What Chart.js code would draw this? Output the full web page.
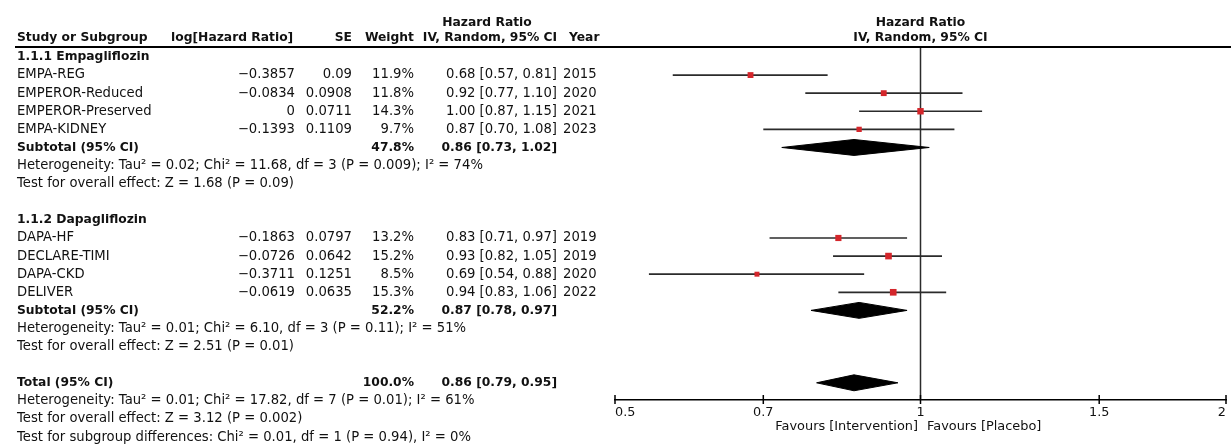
<!DOCTYPE html>
<html>
<head>
<meta charset="utf-8">
<script src="https://cdn.jsdelivr.net/npm/chart.js@4.4.1/dist/chart.umd.min.js"></script>
<style>
  html, body { margin: 0; padding: 0; background: #fff; }
  #wrap { width: 1231px; height: 446px; }
</style>
</head>
<body>
<div id="wrap"><canvas id="forest" width="1231" height="446"></canvas></div>
<script>
// studies, in table order
const studies = ['EMPA-REG', 'EMPEROR-Reduced', 'EMPEROR-Preserved', 'EMPA-KIDNEY', 'DAPA-HF', 'DECLARE-TIMI', 'DAPA-CKD', 'DELIVER'];
const logHR = [-0.3857, -0.0834, 0, -0.1393, -0.1863, -0.0726, -0.3711, -0.0619];
const se = [0.09, 0.0908, 0.0711, 0.1109, 0.0797, 0.0642, 0.1251, 0.0635];
const weights = [11.9, 11.8, 14.3, 9.7, 13.2, 15.2, 8.5, 15.3];
const hr = [0.68, 0.92, 1.00, 0.87, 0.83, 0.93, 0.69, 0.94];
const ciLow = [0.57, 0.77, 0.87, 0.70, 0.71, 0.82, 0.54, 0.83];
const ciHigh = [0.81, 1.10, 1.15, 1.08, 0.97, 1.05, 0.88, 1.06];
const years = [2015, 2020, 2021, 2023, 2019, 2019, 2020, 2022];
const studyRows = [1, 2, 3, 4, 10, 11, 12, 13];

// pooled estimates (diamonds)
const poolLabels = ['Subtotal (95% CI)', 'Subtotal (95% CI)', 'Total (95% CI)'];
const poolWeights = [47.8, 52.2, 100.0];
const poolHR = [0.86, 0.87, 0.86];
const poolLow = [0.73, 0.78, 0.79];
const poolHigh = [1.02, 0.97, 0.95];
const poolRows = [5, 14, 18];

// subgroup headings and stats lines
const groupLabels = ['1.1.1 Empagliflozin', '1.1.2 Dapagliflozin'];
const groupRows = [0, 9];
const statLines = [
  'Heterogeneity: Tau² = 0.02; Chi² = 11.68, df = 3 (P = 0.009); I² = 74%',
  'Test for overall effect: Z = 1.68 (P = 0.09)',
  'Heterogeneity: Tau² = 0.01; Chi² = 6.10, df = 3 (P = 0.11); I² = 51%',
  'Test for overall effect: Z = 2.51 (P = 0.01)',
  'Heterogeneity: Tau² = 0.01; Chi² = 17.82, df = 7 (P = 0.01); I² = 61%',
  'Test for overall effect: Z = 3.12 (P = 0.002)',
  'Test for subgroup differences: Chi² = 0.01, df = 1 (P = 0.94), I² = 0%'
];
const statRows = [6, 7, 15, 16, 19, 20, 21];

// axis
const tickValues = [0.5, 0.7, 1, 1.5, 2];
const tickLabels = ['0.5', '0.7', '1', '1.5', '2'];
const favoursLeft = 'Favours [Intervention]';
const favoursRight = 'Favours [Placebo]';

// ---- styles ----
const FONT = '"DejaVu Sans", sans-serif';
const FS = 13.2;      // regular text
const FS_B = 12.3;    // bold text
const TEXT = '#111';
const LINE = '#2b2b2b';
const RED = '#d4262b';
const DIAMOND_H = 0.44;   // half height, in rows
const COL = { study: 17, logHR: 295, se: 352, weight: 414, ci: 557, year: 563 };

function fmtNum(v) {
  return String(v).replace('-', '\u2212');
}
function fmtCI(e, lo, hi) {
  return e.toFixed(2) + ' [' + lo.toFixed(2) + ', ' + hi.toFixed(2) + ']';
}

const datasets = [];

// hazard ratio points, square area follows the weight
datasets.push({
  type: 'scatter',
  data: hr.map((v, i) => ({ x: v, y: studyRows[i] })),
  pointStyle: 'rect',
  pointRadius: c => 1.7 * Math.sqrt(weights[c.dataIndex]) / 1.414,
  backgroundColor: RED,
  borderWidth: 0,
  order: 0
});

// confidence interval whiskers
studies.forEach((s, i) => {
  datasets.push({
    type: 'line',
    data: [{ x: ciLow[i], y: studyRows[i] }, { x: ciHigh[i], y: studyRows[i] }],
    borderColor: LINE,
    borderWidth: 1.7,
    pointRadius: 0,
    order: 2
  });
});

// diamonds
poolHR.forEach((v, i) => {
  const r = poolRows[i];
  datasets.push({
    type: 'line',
    data: [
      { x: poolLow[i], y: r },
      { x: v, y: r - DIAMOND_H },
      { x: poolHigh[i], y: r },
      { x: v, y: r + DIAMOND_H },
      { x: poolLow[i], y: r }
    ],
    borderColor: '#000',
    backgroundColor: '#000',
    borderWidth: 1,
    pointRadius: 0,
    fill: 'shape',
    tension: 0,
    order: 1
  });
});

const Y_MIN = -0.55, Y_MAX = 18.95;

// line of no effect
datasets.push({
  type: 'line',
  data: [{ x: 1, y: Y_MIN }, { x: 1, y: Y_MAX }],
  borderColor: LINE,
  borderWidth: 1.5,
  pointRadius: 0,
  order: 3
});

const tablePlugin = {
  id: 'tablePlugin',
  afterDraw(chart) {
    const ctx = chart.ctx;
    const xs = chart.scales.x, ys = chart.scales.y;
    const area = chart.chartArea;
    const x1 = xs.getPixelForValue(1);

    function txt(s, x, row, align, bold, size) {
      ctx.font = bold ? 'bold ' + FS_B + 'px ' + FONT : (size || FS) + 'px ' + FONT;
      ctx.textAlign = align;
      ctx.textBaseline = 'middle';
      ctx.fillStyle = TEXT;
      ctx.fillText(s, x, typeof row === 'number' ? ys.getPixelForValue(row) : row.px);
    }

    ctx.save();

    // header
    const h1 = -1.9, h2 = -1.05;
    txt('Hazard Ratio', 487, h1, 'center', true);
    txt('Study or Subgroup', COL.study, h2, 'left', true);
    txt('log[Hazard Ratio]', 171, h2, 'left', true);
    txt('SE', COL.se, h2, 'right', true);
    txt('Weight', COL.weight, h2, 'right', true);
    txt('IV, Random, 95% CI', 490, h2, 'center', true);
    txt('Year', 569, h2, 'left', true);
    txt('Hazard Ratio', x1, h1, 'center', true);
    txt('IV, Random, 95% CI', x1, h2, 'center', true);

    ctx.strokeStyle = '#000';
    ctx.lineWidth = 2;
    ctx.beginPath();
    ctx.moveTo(COL.study - 2, area.top);
    ctx.lineTo(chart.width, area.top);
    ctx.stroke();

    groupLabels.forEach((g, i) => txt(g, COL.study, groupRows[i], 'left', true));

    studies.forEach((s, i) => {
      const r = studyRows[i];
      txt(s, COL.study, r, 'left', false);
      txt(fmtNum(logHR[i]), COL.logHR, r, 'right', false);
      txt(String(se[i]), COL.se, r, 'right', false);
      txt(weights[i].toFixed(1) + '%', COL.weight, r, 'right', false);
      txt(fmtCI(hr[i], ciLow[i], ciHigh[i]), COL.ci, r, 'right', false);
      txt(String(years[i]), COL.year, r, 'left', false);
    });

    poolLabels.forEach((p, i) => {
      const r = poolRows[i];
      txt(p, COL.study, r, 'left', true);
      txt(poolWeights[i].toFixed(1) + '%', COL.weight, r, 'right', true);
      txt(fmtCI(poolHR[i], poolLow[i], poolHigh[i]), COL.ci, r, 'right', true);
    });

    statLines.forEach((s, i) => txt(s, COL.study, statRows[i], 'left', false));

    // tick marks across the axis line
    ctx.strokeStyle = '#000';
    ctx.lineWidth = 1.5;
    xs.ticks.forEach(t => {
      const px = xs.getPixelForValue(t.value);
      ctx.beginPath();
      ctx.moveTo(px, area.bottom - 5);
      ctx.lineTo(px, area.bottom + 4);
      ctx.stroke();
    });

    // favours labels
    txt(favoursLeft, x1 - 2.5, { px: 427 }, 'right', false, 12.9);
    txt(favoursRight, x1 + 6.5, { px: 427 }, 'left', false, 12.9);

    ctx.restore();
  }
};

new Chart(document.getElementById('forest'), {
  data: { datasets: datasets },
  options: {
    responsive: false,
    animation: false,
    devicePixelRatio: 1,
    events: [],
    layout: { padding: { left: 615, right: 3, top: 47, bottom: 0 } },
    plugins: {
      legend: { display: false },
      tooltip: { enabled: false }
    },
    scales: {
      x: {
        type: 'logarithmic',
        position: 'bottom',
        min: 0.5,
        max: 2,
        afterBuildTicks: scale => {
          scale.ticks = tickValues.map(v => ({ value: v }));
        },
        afterFit: scale => { scale.height = 46; },
        ticks: {
          callback: (v, i) => tickLabels[i],
          align: 'inner',
          autoSkip: false,
          maxRotation: 0,
          padding: 5,
          color: TEXT,
          font: { family: FONT, size: 12.8 }
        },
        grid: { drawOnChartArea: false, drawTicks: false },
        border: { display: true, color: '#000', width: 1.5 }
      },
      y: {
        type: 'linear',
        display: false,
        reverse: true,
        min: Y_MIN,
        max: Y_MAX
      }
    }
  },
  plugins: [tablePlugin]
});
</script>
</body>
</html>
